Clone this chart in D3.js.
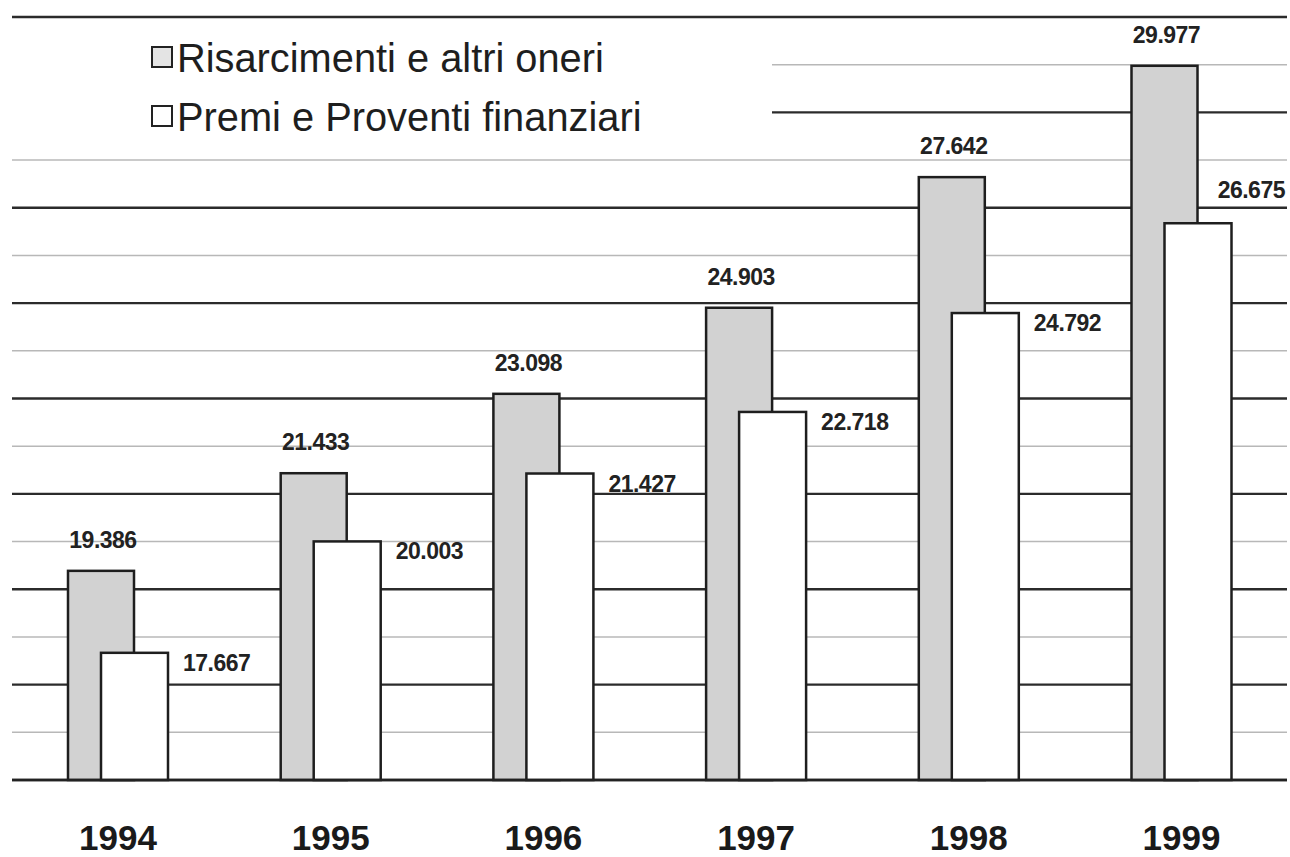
<!DOCTYPE html>
<html>
<head>
<meta charset="utf-8">
<script src="https://cdn.jsdelivr.net/npm/d3@7"></script>
<style>
  body { margin: 0; background: #fff; }
  svg { display: block; }
</style>
</head>
<body>
<div id="chart"></div>
<script>
  // values in thousands (italian decimal point style labels)
  var years = ["1994", "1995", "1996", "1997", "1998", "1999"];
  var risarcimenti = [19.386, 21.433, 23.098, 24.903, 27.642, 29.977];
  var premi = [17.667, 20.003, 21.427, 22.718, 24.792, 26.675];
  var seriesNames = ["Risarcimenti e altri oneri", "Premi e Proventi finanziari"];
  var yDomain = [15, 31];

  var width = 1290, height = 857;
  var gridLeft = 12, gridRight = 1287;

  var fmt = function(v) { return v.toFixed(3); };

  var svg = d3.select("#chart").append("svg")
    .attr("width", width)
    .attr("height", height)
    .style("background-color", "white");

  var yScale = d3.scaleLinear().domain(yDomain).range([780, 17]);
  var xScale = d3.scalePoint().domain(years).range([118, 1181.5]);

  var data = years.map(function(y, i) {
    return { year: y, ris: risarcimenti[i], prem: premi[i] };
  });

  // gridlines: dark every 2 (odd values), light in between
  var ticks = yScale.ticks(16);
  svg.append("g").selectAll("line").data(ticks).enter()
    .append("line")
    .attr("x1", function(d) {
      var y = yScale(d);
      // legend area keeps the upper left free
      return (y > 30 && y < 140) ? 772 : gridLeft;
    })
    .attr("x2", gridRight)
    .attr("y1", function(d) { return yScale(d); })
    .attr("y2", function(d) { return yScale(d); })
    .attr("stroke", function(d) { return d % 2 === 1 ? "#2b2b2b" : "#b8b8b8"; })
    .attr("stroke-width", function(d) { return d % 2 === 1 ? 2.3 : 1.4; });

  // gray bars
  svg.append("g").selectAll("rect").data(data).enter()
    .append("rect")
    .attr("x", function(d) { return xScale(d.year) - 50; })
    .attr("y", function(d) { return yScale(d.ris); })
    .attr("width", 66)
    .attr("height", function(d) { return yScale(yDomain[0]) - yScale(d.ris); })
    .attr("fill", "#d2d2d2")
    .attr("stroke", "#1e1e1e")
    .attr("stroke-width", 2.5);

  // white bars
  svg.append("g").selectAll("rect").data(data).enter()
    .append("rect")
    .attr("x", function(d) { return xScale(d.year) - 17; })
    .attr("y", function(d) { return yScale(d.prem); })
    .attr("width", 67)
    .attr("height", function(d) { return yScale(yDomain[0]) - yScale(d.prem); })
    .attr("fill", "#ffffff")
    .attr("stroke", "#1e1e1e")
    .attr("stroke-width", 2.5);

  // baseline on top
  svg.append("line")
    .attr("x1", gridLeft).attr("x2", gridRight)
    .attr("y1", yScale(yDomain[0])).attr("y2", yScale(yDomain[0]))
    .attr("stroke", "#222").attr("stroke-width", 2.5);

  // value labels
  var labelFont = "'Liberation Sans', Arial, sans-serif";
  svg.append("g").selectAll("text").data(data).enter()
    .append("text")
    .attr("x", function(d) { return xScale(d.year) - 15; })
    .attr("y", function(d) { return yScale(d.ris) - 23; })
    .attr("text-anchor", "middle")
    .attr("font-family", labelFont)
    .attr("font-weight", "bold")
    .attr("font-size", "23px")
    .attr("letter-spacing", "-0.5px")
    .attr("fill", "#222")
    .text(function(d) { return fmt(d.ris); });

  svg.append("g").selectAll("text").data(data).enter()
    .append("text")
    .each(function(d) {
      var right = xScale(d.year) + 50;
      var t = d3.select(this);
      if (right + 15 + 80 > width) {
        // not enough room on the right: put it above, against the edge
        t.attr("x", gridRight - 2).attr("y", yScale(d.prem) - 25).attr("text-anchor", "end");
      } else {
        t.attr("x", right + 15).attr("y", yScale(d.prem) + 18).attr("text-anchor", "start");
      }
    })
    .attr("font-family", labelFont)
    .attr("font-weight", "bold")
    .attr("font-size", "23px")
    .attr("letter-spacing", "-0.5px")
    .attr("fill", "#222")
    .text(function(d) { return fmt(d.prem); });

  // year labels
  svg.append("g").selectAll("text").data(years).enter()
    .append("text")
    .attr("x", function(d) { return xScale(d); })
    .attr("y", 850)
    .attr("text-anchor", "middle")
    .attr("font-family", labelFont)
    .attr("font-weight", "bold")
    .attr("font-size", "35px")
    .attr("fill", "#1a1a1a")
    .text(function(d) { return d; });

  // legend
  var legend = svg.append("g").attr("transform", "translate(152,47)");
  var legendFill = ["#e4e4e4", "#ffffff"];
  seriesNames.forEach(function(name, i) {
    legend.append("rect")
      .attr("x", 0).attr("y", i * 59)
      .attr("width", 20).attr("height", 20)
      .attr("fill", legendFill[i])
      .attr("stroke", "#222")
      .attr("stroke-width", 2);
    legend.append("text")
      .attr("x", 25).attr("y", i * 59 + 25)
      .attr("font-family", labelFont)
      .attr("font-size", "39.8px")
      .attr("fill", "#1e1e1e")
      .text(name);
  });
</script>
</body>
</html>
